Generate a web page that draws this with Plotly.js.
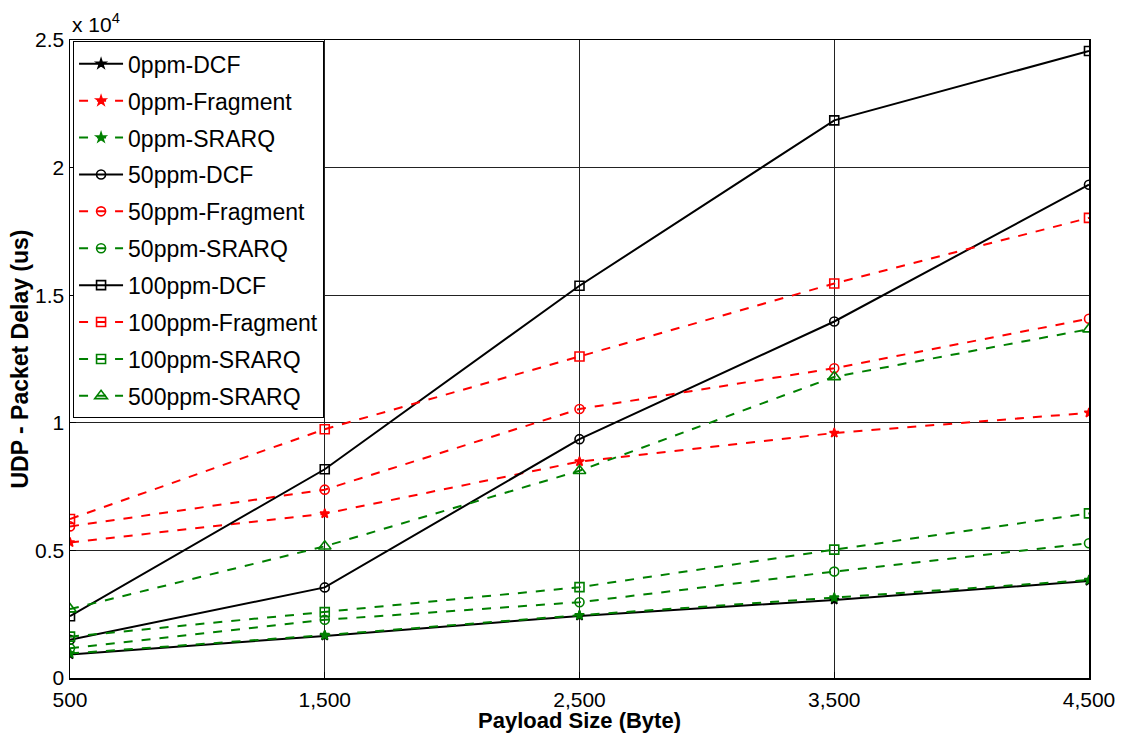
<!DOCTYPE html>
<html>
<head>
<meta charset="utf-8">
<script src="https://cdn.plot.ly/plotly-3.0.1.min.js"></script>
<style>html,body{margin:0;padding:0;background:#fff;}#chart{width:1128px;height:733px;}</style>
</head>
<body>
<div id="chart"></div>
<script>
const payloadSize = [500, 1500, 2500, 3500, 4500];
const xTickLabels = ['500', '1,500', '2,500', '3,500', '4,500'];
const yTickVals = [0, 5000, 10000, 15000, 20000, 25000];
const yTickLabels = ['0', '0.5', '1', '1.5', '2', '2.5'];

const seriesNames = ['0ppm-DCF', '0ppm-Fragment', '0ppm-SRARQ',
  '50ppm-DCF', '50ppm-Fragment', '50ppm-SRARQ',
  '100ppm-DCF', '100ppm-Fragment', '100ppm-SRARQ', '500ppm-SRARQ'];

const dcf0 = [920, 1650, 2430, 3060, 3800];
const fragment0 = [5310, 6440, 8480, 9600, 10390];
const srarq0 = [960, 1680, 2460, 3150, 3840];
const dcf50 = [1500, 3550, 9360, 13970, 19330];
const fragment50 = [5940, 7380, 10540, 12140, 14080];
const srarq50 = [1170, 2280, 2970, 4170, 5280];
const dcf100 = [2420, 8180, 15370, 21850, 24570];
const fragment100 = [6230, 9750, 12600, 15460, 18030];
const srarq100 = [1620, 2580, 3560, 5030, 6450];
const srarq500 = [2700, 5160, 8120, 11800, 13670];

const seriesValues = [dcf0, fragment0, srarq0, dcf50, fragment50, srarq50,
  dcf100, fragment100, srarq100, srarq500];

const styles = [
  {c: '#000000', d: 'solid', s: 'star', sz: 7},
  {c: '#ff0000', d: 'dash', s: 'star', sz: 7},
  {c: '#008000', d: 'dash', s: 'star', sz: 7},
  {c: '#000000', d: 'solid', s: 'circle-open', sz: 9},
  {c: '#ff0000', d: 'dash', s: 'circle-open', sz: 9},
  {c: '#008000', d: 'dash', s: 'circle-open', sz: 9},
  {c: '#000000', d: 'solid', s: 'square-open', sz: 9},
  {c: '#ff0000', d: 'dash', s: 'square-open', sz: 9},
  {c: '#008000', d: 'dash', s: 'square-open', sz: 9},
  {c: '#008000', d: 'dash', s: 'triangle-up-open', sz: 11}
];

const traces = seriesNames.map((name, i) => ({
  type: 'scatter',
  mode: 'lines+markers',
  name: name,
  legendgroup: 'g' + i,
  x: payloadSize,
  y: seriesValues[i],
  line: {color: styles[i].c, dash: styles[i].d, width: 2},
  marker: {symbol: styles[i].s, size: styles[i].sz, color: styles[i].c,
           line: {color: styles[i].c, width: 1.6}}
}));

const font = 'Liberation Sans, Arial, sans-serif';

const layout = {
  width: 1128, height: 733,
  margin: {l: 70, r: 39, t: 40, b: 55},
  paper_bgcolor: '#ffffff',
  plot_bgcolor: '#ffffff',
  showlegend: true,
  legend: {
    x: 0.003, y: 0.998, xanchor: 'left', yanchor: 'top',
    bgcolor: '#ffffff', bordercolor: '#000000', borderwidth: 1,
    font: {family: font, size: 23, color: '#000'},
    itemwidth: 44,
    traceorder: 'grouped', tracegroupgap: 4
  },
  xaxis: {
    range: [500, 4500],
    tickvals: payloadSize, ticktext: xTickLabels,
    tickfont: {family: font, size: 21, color: '#000'},
    ticklabelstandoff: 2,
    showgrid: true, gridcolor: '#222', gridwidth: 1,
    zeroline: false,
    showline: true, linecolor: '#000', linewidth: 1.5, mirror: true,
    ticks: 'inside', ticklen: 6, tickcolor: '#000',
    title: {text: '<b>Payload Size (Byte)</b>', font: {family: font, size: 22, color: '#000'}, standoff: 0}
  },
  yaxis: {
    range: [0, 25000],
    tickvals: yTickVals, ticktext: yTickLabels,
    tickfont: {family: font, size: 21, color: '#000'},
    showgrid: true, gridcolor: '#222', gridwidth: 1,
    zeroline: false,
    showline: true, linecolor: '#000', linewidth: 1.5, mirror: true,
    ticks: 'inside', ticklen: 6, tickcolor: '#000',
    title: {text: '<b>UDP - Packet Delay (us)</b>', font: {family: font, size: 23, color: '#000'}, standoff: 0}
  },
  annotations: [{
    xref: 'paper', yref: 'paper', x: 0, y: 1, xanchor: 'left', yanchor: 'bottom',
    yshift: 2, xshift: 0, showarrow: false,
    text: 'x 10<sup>4</sup>', font: {family: font, size: 21, color: '#000'}
  }]
};

Plotly.newPlot('chart', traces, layout, {displayModeBar: false, staticPlot: true});
</script>
</body>
</html>
